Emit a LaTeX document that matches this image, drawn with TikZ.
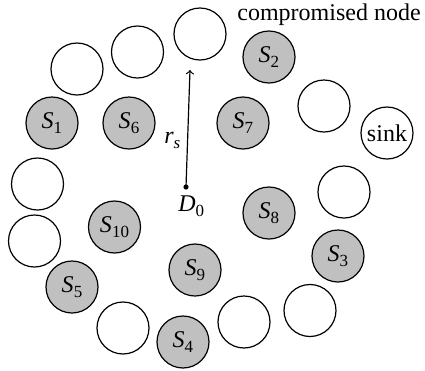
\documentclass[tikz,border=0pt]{standalone}
\usepackage{fontspec}
\setmainfont{Liberation Serif}
\definecolor{hit}{RGB}{192,192,192}
% italic letter with upright subscript
\newcommand{\lab}[2]{\textit{#1}\raisebox{-0.45ex}{\fontsize{8.5}{9}\selectfont #2}}
\begin{document}
\begin{tikzpicture}[x=0.5pt,y=-0.5pt,>=to,line join=round,line cap=round,
	font=\fontsize{12}{14}\selectfont,
	nd/.style={circle,draw,line width=0.6pt,minimum size=26pt,inner sep=0pt},
	bad/.style={nd,fill=hit}]
	\useasboundingbox (0,0) rectangle (425,371);
	% compromised nodes
	\node[bad] (s1) at (52,123) {\lab{S}{1}};
	\node[bad] (s2) at (269,57) {\lab{S}{2}};
	\node[bad] (s3) at (338,256) {\lab{S}{3}};
	\node[bad] (s4) at (183,342) {\lab{S}{4}};
	\node[bad] (s5) at (72,287) {\lab{S}{5}};
	\node[bad] (s6) at (129,123) {\lab{S}{6}};
	\node[bad] (s7) at (243,123) {\lab{S}{7}};
	\node[bad] (s8) at (269,213) {\lab{S}{8}};
	\node[bad] (s9) at (195,270) {\lab{S}{9}};
	\node[bad] (s10) at (114.5,227) {\lab{S}{10}};
	% normal nodes
	\foreach \px/\py [count=\i] in {200/34,137.5/52,77/69,324/106,37.5/184,344/192,34.5/241,310/310.5,244/322,123/328}
		\node[nd] (n\i) at (\px,\py) {};
	\node[nd] (sink) at (387,133) {sink};
	\node (cap) at (329,15) {compromised node};
	% centre and radius
	\fill (186,187) circle (2.6) coordinate (d0);
	\node[anchor=north west,inner sep=0pt] (d0lab) at (178,195) {\lab{D}{0}};
	\coordinate (rtip) at (190,70);
	\draw[->,line width=0.6pt] (d0) -- (rtip) node[pos=0.4,left=0pt] (rs) {\lab{r}{\textit{s}}};
\end{tikzpicture}
\end{document}
